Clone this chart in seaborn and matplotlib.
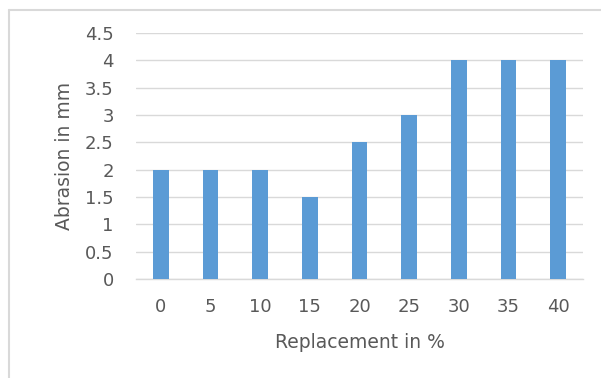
import matplotlib
matplotlib.use("Agg")
import matplotlib.pyplot as plt
import seaborn as sns
import pandas as pd
from matplotlib.lines import Line2D

replacement = ["0", "5", "10", "15", "20", "25", "30", "35", "40"]
abrasion = [2, 2, 2, 1.5, 2.5, 3, 4, 4, 4]
yticks = [0, 0.5, 1, 1.5, 2, 2.5, 3, 3.5, 4, 4.5]
ytick_labels = ["0", "0.5", "1", "1.5", "2", "2.5", "3", "3.5", "4", "4.5"]

df = pd.DataFrame({"Replacement": replacement, "Abrasion": abrasion})

sns.set_style("white")
plt.rcParams["font.family"] = ["DejaVu Sans"]

W, H = 601, 378
fig = plt.figure(figsize=(W / 100, H / 100), dpi=100)
ax = fig.add_axes([136 / W, 1 - 279 / H, (583 - 136) / W, (279 - 33) / H])

sns.barplot(data=df, x="Replacement", y="Abrasion", order=replacement,
            color="#5B9BD5", saturation=1, width=0.31, ax=ax, zorder=3,
            linewidth=0)

ax.set_ylim(0, 4.5)
ax.set_xlim(-0.5, len(replacement) - 0.5)
ax.set_yticks(yticks)
ax.set_yticklabels(ytick_labels)
ax.grid(axis="y", color="#D9D9D9", linewidth=1, zorder=0)
ax.set_axisbelow(True)
for s in ["top", "right", "left"]:
    ax.spines[s].set_visible(False)
ax.spines["bottom"].set_color("#D9D9D9")
ax.spines["bottom"].set_linewidth(1)

ax.tick_params(axis="both", length=0, labelsize=13, colors="#595959")
ax.tick_params(axis="x", pad=14)
ax.tick_params(axis="y", pad=16)
ax.set_xlabel("Replacement in %", fontsize=13.5, color="#595959", labelpad=12)
ax.set_ylabel("Abrasion in mm", fontsize=13.5, color="#595959", labelpad=8)

# chart area border (left and top edges visible)
fig.add_artist(Line2D([9 / W, 9 / W], [0, 1 - 10 / H], transform=fig.transFigure,
                      color="#D9D9D9", linewidth=1.5))
fig.add_artist(Line2D([9 / W, 1], [1 - 10 / H, 1 - 10 / H], transform=fig.transFigure,
                      color="#D9D9D9", linewidth=1.5))

fig.savefig("out.png", dpi=100)
